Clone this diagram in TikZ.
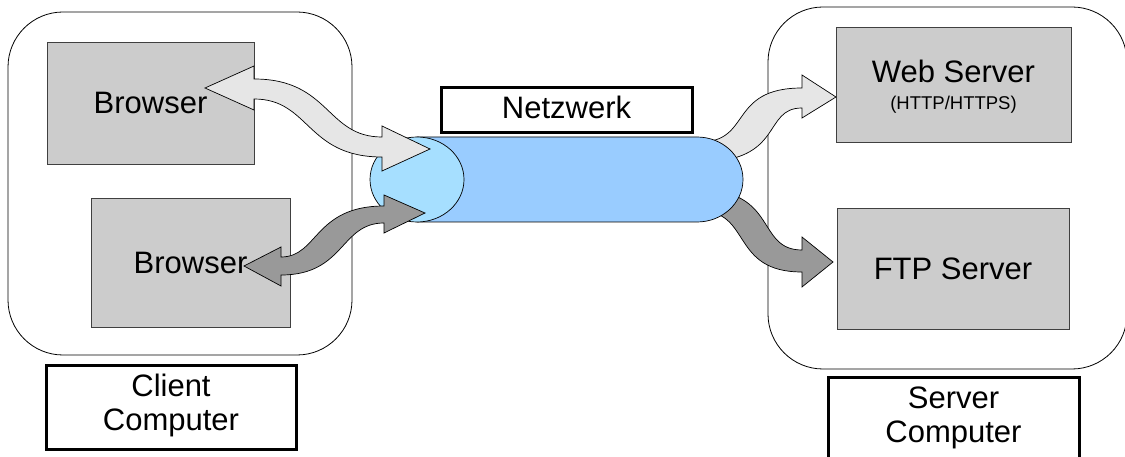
\documentclass[tikz,border=0pt]{standalone}
\usepackage{fontspec}
\setmainfont{Liberation Sans}
\definecolor{boxgray}{HTML}{CCCCCC}
\definecolor{lightarrow}{HTML}{E6E6E6}
\definecolor{darkarrow}{HTML}{999999}
\definecolor{pipeblue}{HTML}{99CCFF}
\definecolor{capblue}{HTML}{A6DFFF}
\definecolor{edgegray}{HTML}{404040}
\begin{document}
\begin{tikzpicture}[x=1pt,y=-1pt,
  container/.style={draw=black, line width=0.8pt, rounded corners=55pt, inner sep=0pt},
  graybox/.style={draw=edgegray, fill=boxgray, line width=0.8pt, inner sep=0pt,
     font=\fontsize{31}{34}\selectfont},
  labelbox/.style={draw=black, fill=white, line width=3pt, inner sep=0pt},
  labeltext/.style={anchor=base, align=center, inner sep=0pt, font=\fontsize{31}{34}\selectfont},
  fatarrow/.style={draw=black, line width=0.7pt, line join=miter}
]
\useasboundingbox (0,0) rectangle (1125,457);
\begin{scope}
\clip (0,0) rectangle (1125,457);
% containers
\node[container, minimum width=344pt, minimum height=343pt] (client) at (180,183.5) {};
\node[container, minimum width=359pt, minimum height=362pt] (server) at (947.5,188) {};
% gray boxes
\node[graybox, minimum width=207pt, minimum height=122pt] (b1) at (150.5,103) {Browser};
\node[graybox, minimum width=199pt, minimum height=129pt] (b2) at (190.5,262.5) {Browser};
\node[graybox, minimum width=235pt, minimum height=115pt] (web) at (953.5,84.5) {};
\node[labeltext] (webt) at (953.5,83) {Web Server};
\node[anchor=base, inner sep=0pt, font=\fontsize{18.5}{20}\selectfont] (webp) at (953.5,110) {(HTTP/HTTPS)};
\node[graybox, minimum width=232pt, minimum height=121pt] (ftp) at (953,268.5) {FTP Server};
% labels
\node[labelbox, minimum width=250pt, minimum height=84pt] (clientlbl) at (171,407) {};
\node[labeltext] (clientt) at (171,430) {Client\\Computer};
\node[labelbox, minimum width=251pt, minimum height=84pt] (serverlbl) at (953.5,419) {};
\node[labeltext] (servert) at (953.5,442) {Server\\Computer};
\node[labelbox, minimum width=251pt, minimum height=45pt] (netz) at (566.5,110.5) {};
\node[labeltext] (netzt) at (566.5,119) {Netzwerk};
% arrows behind the pipe (to servers)
\draw[fatarrow, fill=lightarrow]
  (700,142) .. controls (752,142) and (728,88) .. (802,88) -- (802,75) -- (836,97) -- (802,118) -- (802,108)
  .. controls (762,108) and (785,162) .. (700,162) -- cycle;
\draw[fatarrow, fill=darkarrow]
  (700,190) .. controls (778,190) and (756,250) .. (802,250) -- (802,237) -- (833,262) -- (802,287) -- (802,272)
  .. controls (730,272) and (752,211) .. (700,211) -- cycle;
% pipe
\draw[fill=pipeblue, line width=0.7pt] (417,137) -- (697,137)
  arc[start angle=-90, end angle=90, x radius=46, y radius=42.5] -- (417,222) -- cycle;
\draw[fill=capblue, line width=0.7pt] (417,179.5) ellipse [x radius=47, y radius=42.5];
% arrows from browsers
\draw[fatarrow, fill=lightarrow]
  (205,88) -- (254,66) -- (254,79) .. controls (330,79) and (326,137) .. (382,137) -- (382,126) -- (430,149)
  -- (382,171) -- (382,157) .. controls (306,157) and (310,99) .. (254,99) -- (254,110) -- cycle;
\draw[fatarrow, fill=darkarrow]
  (244,266) -- (281,247) -- (281,257) .. controls (318,257) and (314,206) .. (384,206) -- (384,195) -- (425,213)
  -- (384,233) -- (384,223) .. controls (340,223) and (345,275) .. (281,275) -- (281,286) -- cycle;
\end{scope}
\end{tikzpicture}
\end{document}
